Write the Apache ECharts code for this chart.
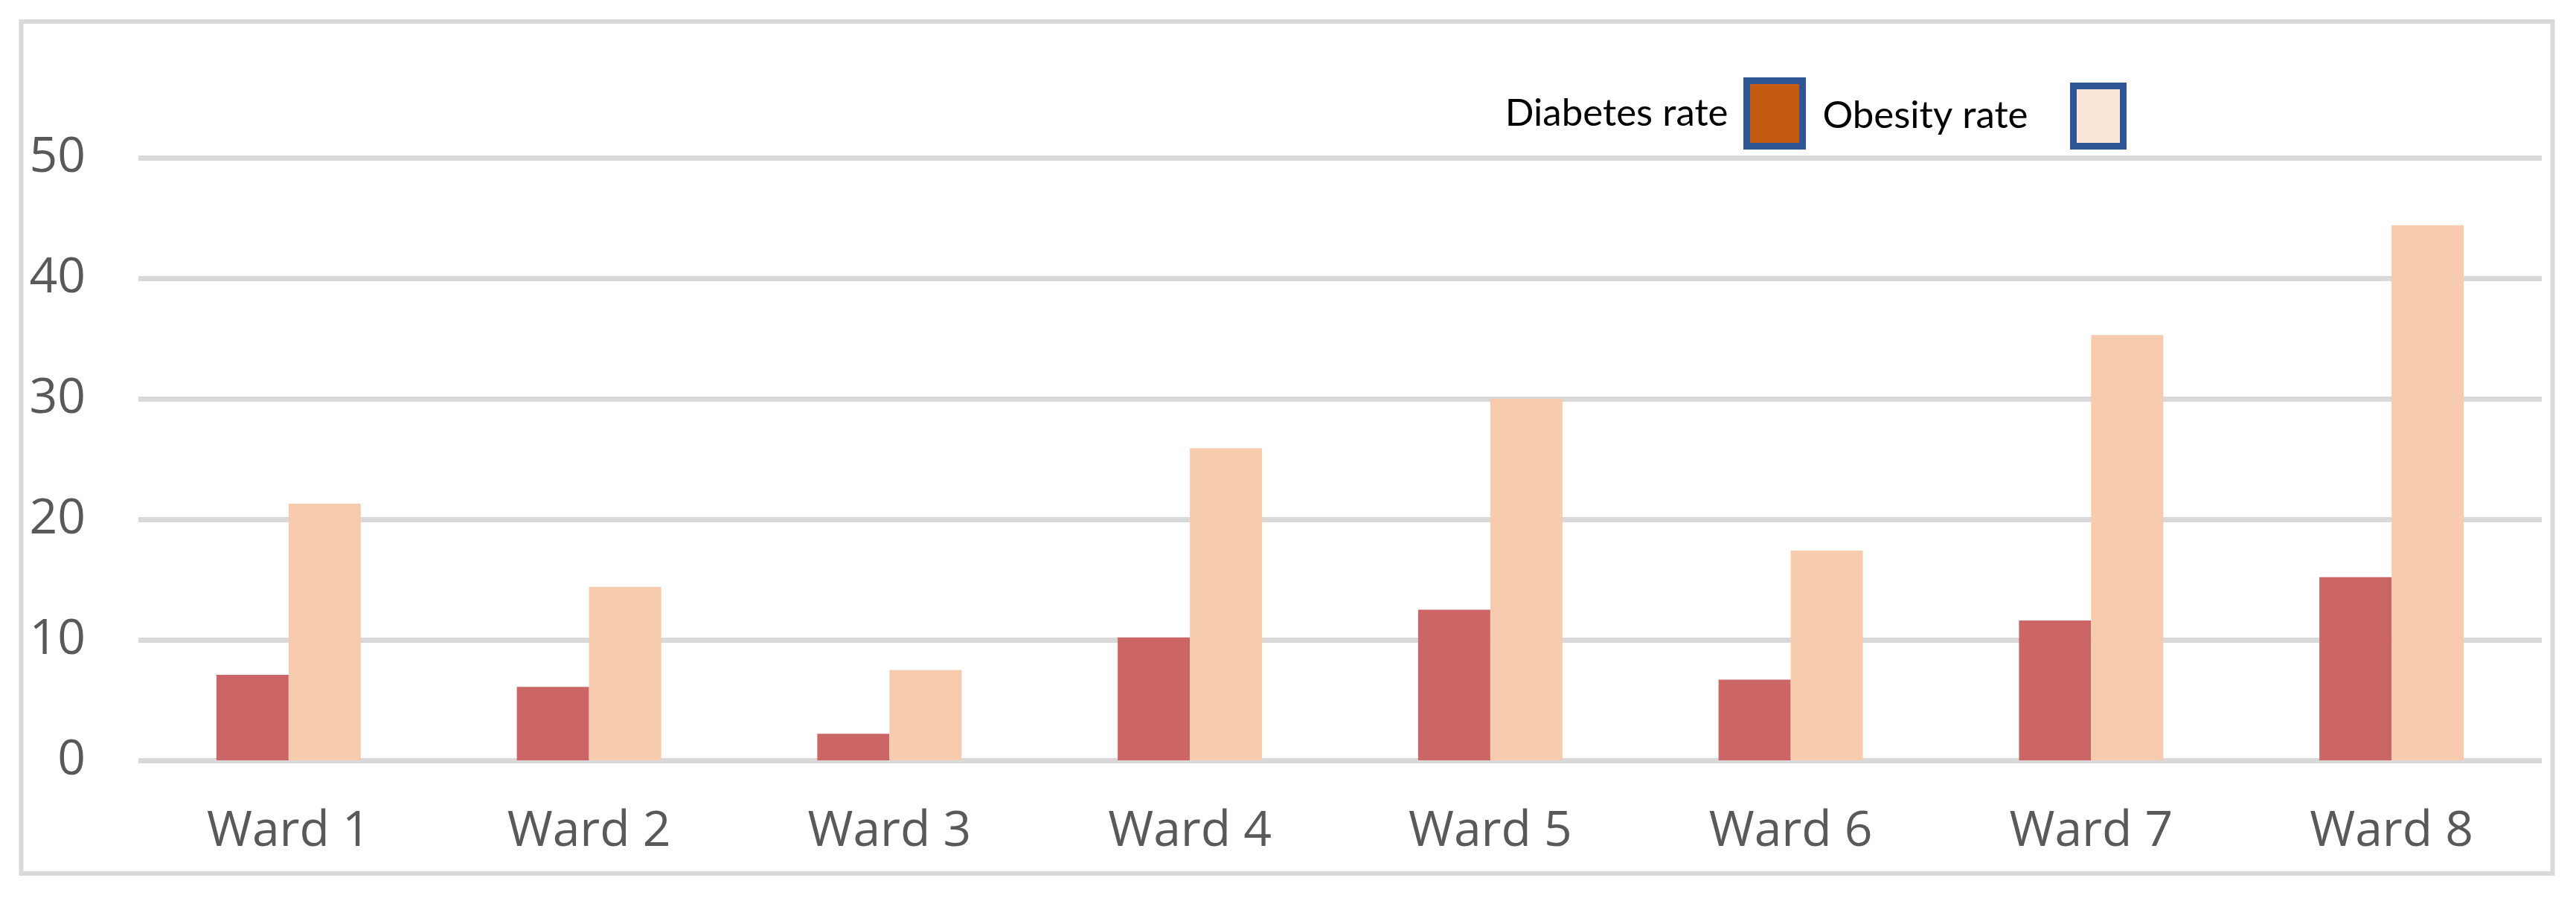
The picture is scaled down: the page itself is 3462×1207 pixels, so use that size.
<!DOCTYPE html>
<html>
<head>
<meta charset="utf-8">
<script src="https://cdn.jsdelivr.net/npm/echarts@6/dist/echarts.min.js"></script>
<style>
  html, body { margin: 0; padding: 0; background: #ffffff; }
  #chart { width: 3462px; height: 1207px; }
</style>
</head>
<body>
<div id="chart"></div>
<script>
const categories = ['Ward 1', 'Ward 2', 'Ward 3', 'Ward 4', 'Ward 5', 'Ward 6', 'Ward 7', 'Ward 8'];
const diabetesRate = [7.1, 6.1, 2.2, 10.2, 12.5, 6.7, 11.6, 15.2];
const obesityRate = [21.3, 14.4, 7.5, 25.9, 30.0, 17.4, 35.3, 44.4];
const seriesNames = ['Diabetes rate', 'Obesity rate'];

const chart = echarts.init(document.getElementById('chart'), null, { renderer: 'canvas' });

const option = {
  backgroundColor: '#ffffff',
  animation: false,
  graphic: [{
    type: 'rect',
    z: -10,
    silent: true,
    shape: { x: 28.5, y: 29, width: 3402, height: 1145 },
    style: { fill: 'none', stroke: '#d9d9d9', lineWidth: 6 }
  }],
  legend: [{
    data: [{ name: seriesNames[0], itemStyle: { color: '#C55A11', borderColor: '#2F5597', borderWidth: 9 } }],
    right: 1035,
    top: 104,
    padding: 0,
    align: 'right',
    icon: 'rect',
    itemWidth: 75,
    itemHeight: 88,
    selectedMode: false,
    textStyle: { fontFamily: 'Lato', fontSize: 51, color: '#000000', padding: [0, 20, 0, 0] }
  }, {
    data: [{ name: seriesNames[1], itemStyle: { color: '#FBE5D6', borderColor: '#2F5597', borderWidth: 9 } }],
    right: 604,
    top: 111,
    padding: 0,
    align: 'right',
    icon: 'rect',
    itemWidth: 67,
    itemHeight: 81,
    selectedMode: false,
    textStyle: { fontFamily: 'Lato', fontSize: 51, color: '#000000', padding: [0, 56, 12, 0] }
  }],
  grid: { left: 186, top: 212, width: 3230, height: 810, containLabel: false },
  xAxis: {
    type: 'category',
    data: categories,
    axisLine: { show: false },
    axisTick: { show: false },
    axisLabel: { fontFamily: 'Open Sans', fontSize: 66, color: '#595959', margin: 63 },
    splitLine: { show: false }
  },
  yAxis: {
    type: 'value',
    min: 0,
    max: 50,
    interval: 10,
    axisLine: { show: false },
    axisTick: { show: false },
    axisLabel: { fontFamily: 'Open Sans', fontSize: 66, color: '#595959', margin: 71 },
    splitLine: { show: true, lineStyle: { color: '#d9d9d9', width: 7 } }
  },
  series: [{
    name: seriesNames[0],
    type: 'bar',
    data: diabetesRate,
    barWidth: 97,
    barGap: '0%',
    itemStyle: { color: '#CC6666' }
  }, {
    name: seriesNames[1],
    type: 'bar',
    data: obesityRate,
    barWidth: 97,
    barGap: '0%',
    itemStyle: { color: '#F7CBAE' }
  }]
};

chart.setOption(option);
</script>
</body>
</html>
